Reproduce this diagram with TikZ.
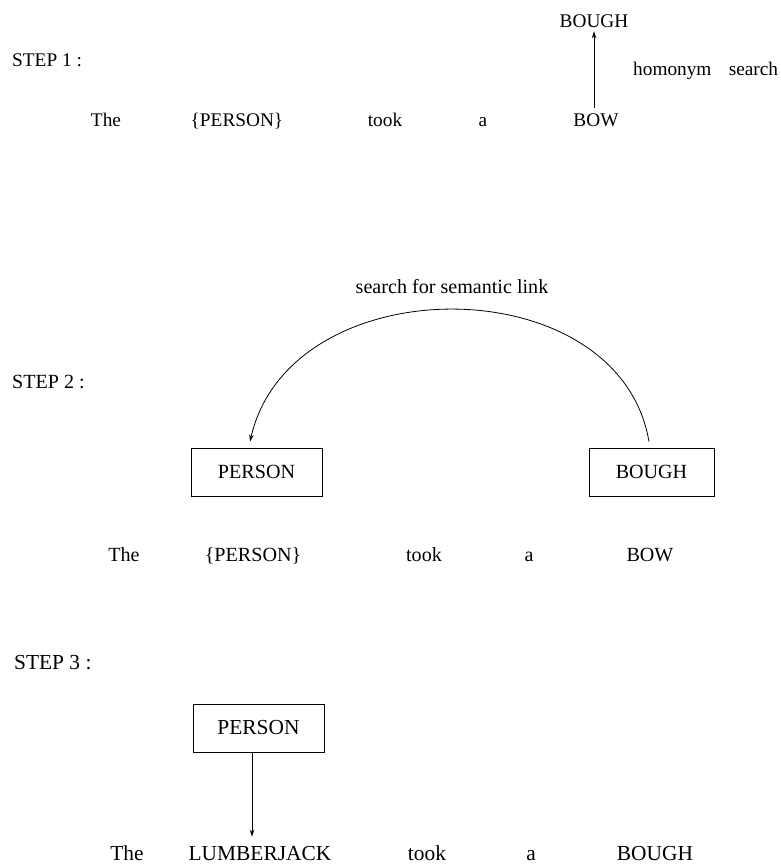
\documentclass[tikz,border=0pt]{standalone}
\usepackage{fontspec}
\setmainfont{Liberation Serif}
\usetikzlibrary{arrows.meta}

% text sizes for the three steps
\newcommand\szA{\fontsize{19.3bp}{22bp}\selectfont}
\newcommand\szB{\fontsize{20.1bp}{23bp}\selectfont}
\newcommand\szC{\fontsize{21.4bp}{24bp}\selectfont}

\begin{document}
\begin{tikzpicture}[x=1bp,y=-1bp,
  word/.style={inner sep=0pt,anchor=base},
  label/.style={inner sep=0pt,anchor=base west},
  conceptbox/.style={draw,line width=0.8bp,minimum height=48bp,inner sep=0pt},
  link/.style={line width=0.8bp,-{Stealth[length=7bp,width=4.5bp]}}]
\useasboundingbox (0,0) rectangle (781,866);

% ---------------- step 1: homonym search ----------------
\node[label] (s1) at (12,66) {\szA STEP 1 :};
\node[word] (w1a) at (106,126) {\szA The};
\node[word] (w1b) at (237,126) {\szA \{PERSON\}};
\node[word] (w1c) at (385,126) {\szA took};
\node[word] (w1d) at (483,126) {\szA a};
\node[word] (w1e) at (596,126) {\szA BOW};
\node[word] (h1) at (594,27) {\szA BOUGH};
\node[label] (hs) at (633,75) {\szA homonym\hspace{0.9em}search};
\draw[link,shorten <=5bp,shorten >=4bp] (w1e.north -| h1.south) -- (h1.south);

% ---------------- step 2: semantic link ----------------
\node[label] (s2) at (12,388) {\szB STEP 2 :};
\node[word] (sl) at (452,293) {\szB search for semantic link};
\node[conceptbox,minimum width=131bp] (p2) at (256.5,472) {\szB PERSON};
\node[conceptbox,minimum width=125bp] (b2) at (651.5,472) {\szB BOUGH};
\node[word] (w2a) at (124,561) {\szB The};
\node[word] (w2b) at (253,561) {\szB \{PERSON\}};
\node[word] (w2c) at (424,561) {\szB took};
\node[word] (w2d) at (529,561) {\szB a};
\node[word] (w2e) at (650,561) {\szB BOW};
\draw[link] ([xshift=-2.5bp,yshift=6bp]b2.north)
  .. controls +(-30,-176) and +(40,-176) .. ([xshift=-6.5bp,yshift=6bp]p2.north);

% ---------------- step 3: substitution ----------------
\node[label] (s3) at (14,669) {\szC STEP 3 :};
\node[conceptbox,minimum width=131bp] (p3) at (258.5,728) {\szC PERSON};
\node[word] (w3a) at (127,860) {\szC The};
\node[word] (w3b) at (260,860) {\szC LUMBERJACK};
\node[word] (w3c) at (427,860) {\szC took};
\node[word] (w3d) at (531,860) {\szC a};
\node[word] (w3e) at (655,860) {\szC BOUGH};
\draw[link,shorten >=9bp] ([xshift=-6.5bp]p3.south) -- ([xshift=-6.5bp]p3.south |- w3b.north);
\end{tikzpicture}
\end{document}
